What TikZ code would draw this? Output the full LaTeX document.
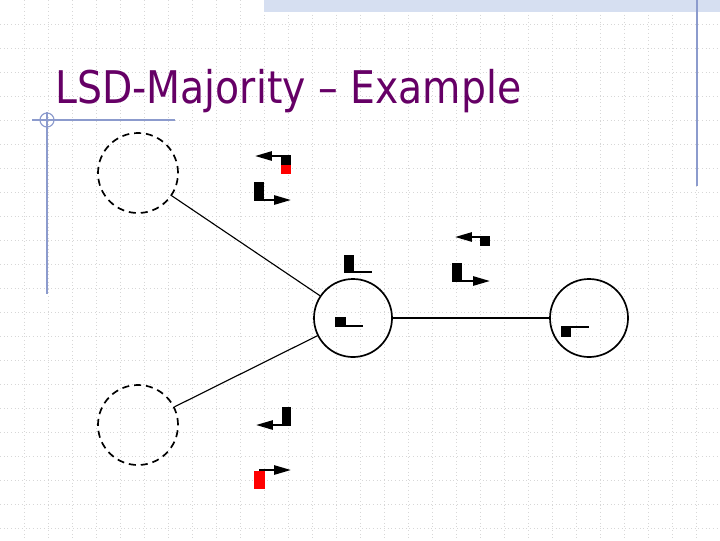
\documentclass[tikz,border=0pt]{standalone}
\usepackage{fontspec}
\usepackage{tikz}
\usetikzlibrary{positioning,arrows.meta}
\newfontfamily\titlefont{DejaVu Sans}

\definecolor{titlepurple}{RGB}{102,0,102}
\definecolor{slideblue}{RGB}{140,155,205}
\definecolor{barblue}{RGB}{214,223,241}
\definecolor{gridgray}{RGB}{215,215,215}

\tikzset{
  gridline/.style={gridgray, dotted, line width=0.6pt},
  dashcirc/.style={circle, draw, dashed, dash pattern=on 5pt off 3.5pt, line width=1.2pt, minimum size=2cm, inner sep=0pt},
  solidcirc/.style={circle, draw, line width=1.2pt, minimum size=1.95cm, inner sep=0pt},
  edge/.style={line width=0.8pt},
  msg/.style={line width=1.5pt, -{Triangle[length=12pt,width=6.5pt]}},
  tail/.style={line width=1.3pt},
}

\begin{document}
\begin{tikzpicture}[x=0.025cm,y=-0.025cm]

\useasboundingbox (0,0) rectangle (720,540);
\fill[white] (0,0) rectangle (720,540);

% Grid
\foreach \gx in {24,48,...,696}
  \draw[gridline] (\gx,0) -- (\gx,540);
\foreach \gy in {24,48,...,528}
  \draw[gridline] (0,\gy) -- (720,\gy);

% Slide decorations
\fill[barblue] (264,0) rectangle (720,12);
\draw[slideblue, line width=1pt] (697,0) -- (697,186);
\draw[slideblue, line width=0.8pt] (32,120) -- (175,120);
\draw[slideblue, line width=0.8pt] (47,112) -- (47,294);
\draw[slideblue, line width=0.8pt] (47,120) circle (7);

% Title
\node[anchor=base west, inner sep=0pt, text=titlepurple] (title) at (55,103)
  {\titlefont\fontsize{32}{38}\selectfont\scalebox{0.875}[1]{LSD-Majority – Example}};

% Nodes
\node[dashcirc] (tl) at (138,173) {};
\node[dashcirc] (bl) at (138,425) {};
\node[solidcirc] (mid) at (353,318) {};
\node[solidcirc] (rt) at (589,318) {};

% Edges
\draw[edge] (tl) -- (mid);
\draw[edge] (bl) -- (mid);
\draw[edge] (mid) -- (rt);

% Messages on the upper left edge
\draw[msg] (286,156) -- (255,156);
\fill[black] (281,155) rectangle (291,165);
\fill[red] (281,165) rectangle (291,174);
\draw[msg] (259,200) -- (291,200);
\fill[black] (254,182) rectangle (264,201);

% Messages on the lower left edge
\draw[msg] (286,425) -- (256,425);
\fill[black] (282,407) rectangle (291,426);
\draw[msg] (259,470) -- (291,470);
\fill[red] (254,471) rectangle (265,489);

% Messages on the right edge
\draw[msg] (485,237) -- (455,237);
\fill[black] (480,236) rectangle (490,246);
\draw[msg] (457,281) -- (490,281);
\fill[black] (452,263) rectangle (462,282);

% Local values
\draw[tail] (349,272) -- (372,272);
\fill[black] (344,255) rectangle (354,273);
\draw[tail] (340,326) -- (363,326);
\fill[black] (335,317) rectangle (346,327);
\draw[tail] (566,327) -- (589,327);
\fill[black] (561,326) rectangle (571,337);

\end{tikzpicture}
\end{document}
